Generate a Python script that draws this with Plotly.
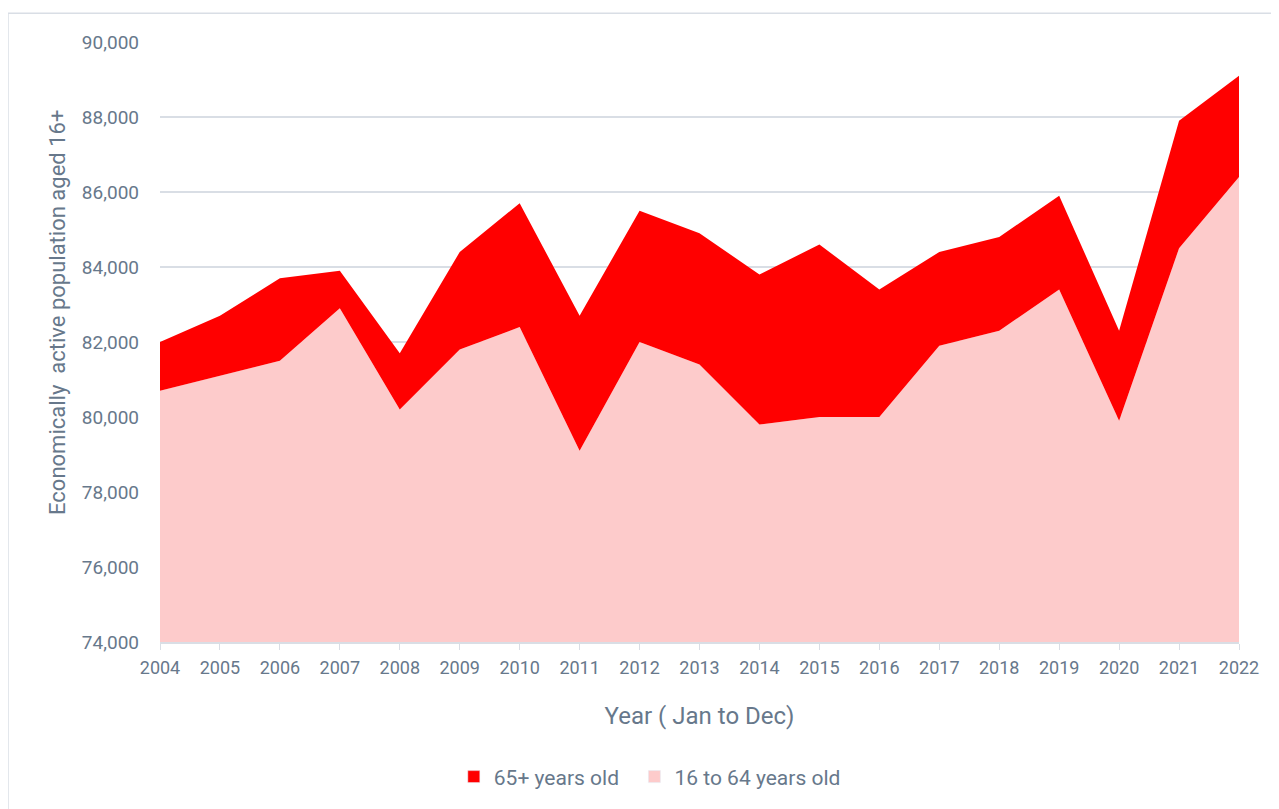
import plotly.graph_objs as go

years = [str(y) for y in range(2004, 2023)]
age_16_64 = [80700, 81100, 81500, 82900, 80200, 81800, 82400, 79100, 82000, 81400,
             79800, 80000, 80000, 81900, 82300, 83400, 79900, 84500, 86400]
age_65_plus = [1300, 1600, 2200, 1000, 1500, 2600, 3300, 3600, 3500, 3500,
               4000, 4600, 3400, 2500, 2500, 2500, 2400, 3400, 2700]

font_family = "Roboto, sans-serif"
text_colour = "#67788B"
grid_colour = "#D9DEE5"
pink = "#FDCBCB"
red = "#FF0000"

fig = go.Figure()

# stacked areas, base series first
fig.add_trace(go.Scatter(
    x=years, y=age_16_64, name="16 to 64 years old",
    mode="lines", stackgroup="one", showlegend=False,
    line=dict(width=0, color=pink), fillcolor=pink,
))
fig.add_trace(go.Scatter(
    x=years, y=age_65_plus, name="65+ years old",
    mode="lines", stackgroup="one", showlegend=False,
    line=dict(width=0, color=red), fillcolor=red,
))

# empty bar traces only to get square legend keys
fig.add_trace(go.Bar(x=[years[0]], y=[None], name="16 to 64 years old", marker_color=pink))
fig.add_trace(go.Bar(x=[years[0]], y=[None], name="65+ years old\u00a0\u00a0", marker_color=red))

fig.update_layout(
    width=1271, height=801,
    margin=dict(l=152, r=40, t=34, b=167, autoexpand=False),
    paper_bgcolor="white", plot_bgcolor="white",
    font=dict(family=font_family, color=text_colour, size=18),
    showlegend=True,
    legend=dict(orientation="h", traceorder="reversed",
                x=0.2723, xanchor="left", yref="container", y=0.04, yanchor="middle",
                font=dict(size=21), itemwidth=30),
    shapes=[dict(type="rect", xref="paper", yref="paper",
                 x0=-0.1409, x1=1.037, y0=-0.3, y1=1.048,
                 line=dict(color=grid_colour, width=1.5))],
    annotations=[dict(text="Economically  active population aged 16+", textangle=-90,
                      xref="paper", yref="paper", x=-0.0955, y=0.55,
                      xanchor="center", yanchor="middle", showarrow=False,
                      font=dict(size=22, color=text_colour))],
)

fig.update_xaxes(
    type="category", range=[0, len(years) - 1],
    showgrid=False, showline=True, linecolor=grid_colour, linewidth=1.5,
    ticks="outside", tickcolor=grid_colour, ticklen=6,
    ticklabelstandoff=3,
    tickfont=dict(size=18, color=text_colour),
    title=dict(text="Year ( Jan to Dec)", font=dict(size=24, color=text_colour), standoff=30),
)
fig.update_yaxes(
    range=[74000, 90000], dtick=2000, tickformat=",",
    showgrid=True, gridcolor=grid_colour, gridwidth=1.5,
    zeroline=False, showline=False,
    ticklabelstandoff=20,
    tickfont=dict(size=19, color=text_colour),
)

fig.write_html("out.html")
